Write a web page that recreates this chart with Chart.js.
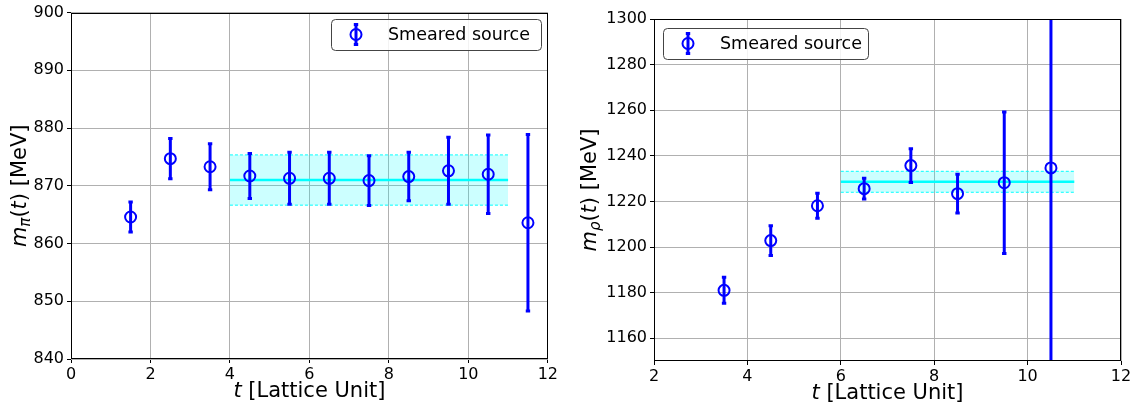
<!DOCTYPE html>
<html>
<head>
<meta charset="utf-8">
<script src="https://cdn.jsdelivr.net/npm/chart.js@4/dist/chart.umd.min.js"></script>
<style>
  html, body { margin: 0; padding: 0; background: #fff; }
  #wrap { position: relative; width: 1136px; height: 412px; }
  .box { position: absolute; top: 0; height: 412px; }
</style>
</head>
<body>
<div id="wrap">
  <div class="box" style="left:0;width:560px"><canvas id="piChart" width="560" height="412"></canvas></div>
  <div class="box" style="left:570px;width:566px"><canvas id="rhoChart" width="566" height="412"></canvas></div>
</div>
<script>
// ---- data: pion effective mass ----
const piT = [1.5, 2.5, 3.5, 4.5, 5.5, 6.5, 7.5, 8.5, 9.5, 10.5, 11.5];
const piMass = [864.6, 874.7, 873.3, 871.7, 871.3, 871.3, 870.9, 871.6, 872.6, 872.0, 863.6];
const piErr = [2.6, 3.5, 4.0, 3.9, 4.5, 4.5, 4.3, 4.2, 5.8, 6.8, 15.3];
const piFit = [871.0, 4.35];       // value, error
const piFitRange = [4, 11];
const piXTicks = [0, 2, 4, 6, 8, 10, 12];
const piYTicks = [840, 850, 860, 870, 880, 890, 900];

// ---- data: rho effective mass ----
const rhoT = [3.5, 4.5, 5.5, 6.5, 7.5, 8.5, 9.5, 10.5];
const rhoMass = [1181.0, 1202.8, 1218.1, 1225.6, 1235.7, 1223.4, 1228.2, 1234.7];
const rhoErr = [5.7, 6.5, 5.5, 4.6, 7.4, 8.5, 31.0, 150.0];
const rhoFit = [1228.6, 4.6];
const rhoFitRange = [6, 11];
const rhoXTicks = [2, 4, 6, 8, 10, 12];
const rhoYTicks = [1160, 1180, 1200, 1220, 1240, 1260, 1280, 1300];

const legendLabel = 'Smeared source';
const BLUE = '#0000ff';
const CYAN = '#00ffff';
const FONT = "'DejaVu Sans', sans-serif";

function richText(ctx, parts, cx, cy, rotate) {
    ctx.save();
    ctx.translate(cx, cy);
    if (rotate) ctx.rotate(-Math.PI / 2);
    ctx.fillStyle = '#000';
    ctx.textBaseline = 'middle';
    ctx.textAlign = 'left';
    let total = 0;
    parts.forEach(p => {
        ctx.font = (p.italic ? 'italic ' : '') + p.size + 'px ' + FONT;
        p.w = ctx.measureText(p.text).width;
        total += p.w;
    });
    let x = -total / 2;
    parts.forEach(p => {
        ctx.font = (p.italic ? 'italic ' : '') + p.size + 'px ' + FONT;
        ctx.fillText(p.text, x, p.dy || 0);
        x += p.w;
    });
    ctx.restore();
}

function drawErrorBar(ctx, x, yTop, yBot, cap) {
    ctx.beginPath();
    ctx.moveTo(x, yTop);
    ctx.lineTo(x, yBot);
    ctx.stroke();
    ctx.beginPath();
    ctx.moveTo(x - cap, yTop);
    ctx.lineTo(x + cap, yTop);
    ctx.moveTo(x - cap, yBot);
    ctx.lineTo(x + cap, yBot);
    ctx.stroke();
}

// error bars, frame, legend and axis titles
const extrasPlugin = {
    id: 'extras',
    afterDatasetsDraw(chart) {
        const o = chart.options.plugins.extras;
        const ctx = chart.ctx;
        const area = chart.chartArea;
        const xs = chart.scales.x, ys = chart.scales.y;
        ctx.save();
        ctx.beginPath();
        ctx.rect(area.left, area.top, area.right - area.left, area.bottom - area.top);
        ctx.clip();
        ctx.strokeStyle = BLUE;
        ctx.lineWidth = 3;
        ctx.lineCap = 'butt';
        o.t.forEach((t, i) => {
            const px = xs.getPixelForValue(t);
            drawErrorBar(ctx, px,
                ys.getPixelForValue(o.mass[i] + o.err[i]),
                ys.getPixelForValue(o.mass[i] - o.err[i]), 2.2);
        });
        ctx.restore();
    },
    afterDraw(chart) {
        const o = chart.options.plugins.extras;
        const ctx = chart.ctx;
        const a = chart.chartArea;
        ctx.save();
        ctx.strokeStyle = '#000';
        ctx.lineWidth = 1;
        ctx.strokeRect(Math.round(a.left) + 0.5, Math.round(a.top) + 0.5,
            Math.round(a.right - a.left) - 1, Math.round(a.bottom - a.top) - 1);

        // legend
        const L = o.legend;
        ctx.beginPath();
        ctx.roundRect(L.x + 0.5, L.y + 0.5, L.w, L.h, 4);
        ctx.fillStyle = 'rgba(255,255,255,0.85)';
        ctx.fill();
        ctx.strokeStyle = '#444';
        ctx.lineWidth = 1;
        ctx.stroke();
        const mx = L.x + 25, my = L.y + L.h / 2;
        ctx.strokeStyle = BLUE;
        ctx.lineWidth = 3;
        drawErrorBar(ctx, mx, my - 10, my + 10, 2.2);
        ctx.lineWidth = 2;
        ctx.beginPath();
        ctx.arc(mx, my, 5.5, 0, Math.PI * 2);
        ctx.stroke();
        ctx.fillStyle = '#000';
        ctx.font = '17.5px ' + FONT;
        ctx.textBaseline = 'middle';
        ctx.fillText(legendLabel, L.x + 57, my + 1);
        ctx.restore();

        // axis titles
        richText(ctx, [
            { text: 't', italic: true, size: 21 },
            { text: ' [Lattice Unit]', size: 21 }
        ], (a.left + a.right) / 2, a.bottom + 33, false);
        richText(ctx, [
            { text: 'm', italic: true, size: 21 },
            { text: o.sub, italic: true, size: 15, dy: 5 },
            { text: '(', size: 21 },
            { text: 't', italic: true, size: 21 },
            { text: ') [MeV]', size: 21 }
        ], o.yTitleX, (a.top + a.bottom) / 2, true);
    }
};

function buildChart(id, cfg) {
    const points = cfg.t.map((t, i) => ({ x: t, y: cfg.mass[i] }));
    const [lo, hi] = cfg.range;
    const fitVal = cfg.fit[0], fitErr = cfg.fit[1];
    return new Chart(document.getElementById(id), {
        type: 'scatter',
        data: {
            datasets: [
                {
                    data: points,
                    pointStyle: 'circle',
                    pointRadius: 5.5,
                    pointBorderWidth: 2,
                    pointBorderColor: BLUE,
                    pointBackgroundColor: 'rgba(0,0,0,0)',
                    showLine: false,
                    order: 0
                },
                {
                    data: [{ x: lo, y: fitVal }, { x: hi, y: fitVal }],
                    showLine: true,
                    borderColor: CYAN,
                    borderWidth: 2.5,
                    pointRadius: 0,
                    order: 1
                },
                {
                    data: [{ x: lo, y: fitVal + fitErr }, { x: hi, y: fitVal + fitErr }],
                    showLine: true,
                    borderColor: CYAN,
                    borderWidth: 1,
                    borderDash: [3, 2],
                    pointRadius: 0,
                    fill: false,
                    order: 2
                },
                {
                    data: [{ x: lo, y: fitVal - fitErr }, { x: hi, y: fitVal - fitErr }],
                    showLine: true,
                    borderColor: CYAN,
                    borderWidth: 1,
                    borderDash: [3, 2],
                    backgroundColor: 'rgba(0,255,255,0.2)',
                    pointRadius: 0,
                    fill: '-1',
                    order: 3
                }
            ]
        },
        options: {
            responsive: false,
            animation: false,
            events: [],
            layout: { padding: cfg.padding },
            plugins: {
                legend: { display: false },
                tooltip: { enabled: false },
                extras: {
                    t: cfg.t, mass: cfg.mass, err: cfg.err,
                    sub: cfg.sub, legend: cfg.legend, yTitleX: cfg.yTitleX
                }
            },
            scales: {
                x: {
                    type: 'linear',
                    min: cfg.xTicks[0],
                    max: cfg.xTicks[cfg.xTicks.length - 1],
                    afterBuildTicks: ax => { ax.ticks = cfg.xTicks.map(v => ({ value: v })); },
                    afterFit: ax => { ax.height = cfg.xHeight; },
                    grid: { color: '#b0b0b0', lineWidth: 1, tickColor: '#000', tickLength: 4 },
                    border: { display: false },
                    ticks: {
                        color: '#000', font: { family: FONT, size: 16 }, padding: 2, maxRotation: 0,
                        callback: v => String(v)
                    }
                },
                y: {
                    type: 'linear',
                    min: cfg.yMin,
                    max: cfg.yTicks[cfg.yTicks.length - 1],
                    afterBuildTicks: ax => { ax.ticks = cfg.yTicks.map(v => ({ value: v })); },
                    afterFit: ax => { ax.width = cfg.yWidth; },
                    grid: { color: '#b0b0b0', lineWidth: 1, tickColor: '#000', tickLength: 4 },
                    border: { display: false },
                    ticks: {
                        color: '#000', font: { family: FONT, size: 16 }, padding: 3,
                        callback: v => String(v)
                    }
                }
            }
        },
        plugins: [extrasPlugin]
    });
}

buildChart('piChart', {
    t: piT, mass: piMass, err: piErr, fit: piFit, range: piFitRange,
    xTicks: piXTicks, yTicks: piYTicks, yMin: 840, sub: 'π',
    padding: { top: 10, right: 9, left: 0, bottom: 0 },
    yWidth: 71, xHeight: 53, yTitleX: 21,
    legend: { x: 331, y: 19, w: 210, h: 31 }
});

buildChart('rhoChart', {
    t: rhoT, mass: rhoMass, err: rhoErr, fit: rhoFit, range: rhoFitRange,
    xTicks: rhoXTicks, yTicks: rhoYTicks, yMin: 1150, sub: 'ρ',
    padding: { top: 19, right: 15, left: 0, bottom: 0 },
    yWidth: 84, xHeight: 51, yTitleX: 21,
    legend: { x: 93, y: 28, w: 205, h: 31 }
});
</script>
</body>
</html>
